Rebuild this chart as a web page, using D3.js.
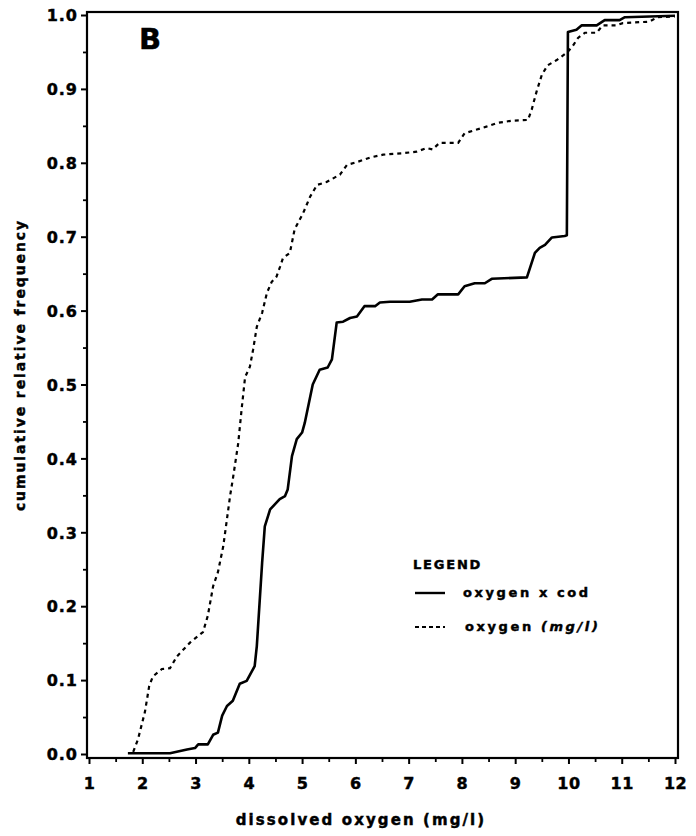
<!DOCTYPE html>
<html>
<head>
<meta charset="utf-8">
<script src="https://cdn.jsdelivr.net/npm/d3@7"></script>
<style>
  html, body { margin: 0; padding: 0; background: #fff; }
  svg { display: block; }
  text { font-family: "DejaVu Sans", sans-serif; font-weight: bold; fill: #000; stroke: #000; stroke-width: 0.45px; }
</style>
</head>
<body>
<svg id="chart" width="696" height="836"></svg>
<script>
// ---- data ----
const xTicks = [1, 2, 3, 4, 5, 6, 7, 8, 9, 10, 11, 12];
const yTicks = [0.0, 0.1, 0.2, 0.3, 0.4, 0.5, 0.6, 0.7, 0.8, 0.9, 1.0];
const seriesNames = ["oxygen x cod", "oxygen"];

// solid: oxygen x cod
const codX = [1.73, 2.52, 2.84, 2.99, 3.05, 3.23, 3.33, 3.42, 3.50, 3.59, 3.70, 3.83, 3.96, 4.11, 4.15, 4.25, 4.30, 4.40, 4.58, 4.68, 4.73, 4.81, 4.90, 5.00, 5.05, 5.20, 5.33, 5.48, 5.56, 5.65, 5.77, 5.90, 6.03, 6.17, 6.37, 6.46, 6.65, 7.02, 7.25, 7.44, 7.55, 7.93, 8.05, 8.24, 8.43, 8.56, 9.22, 9.37, 9.46, 9.56, 9.69, 9.93, 9.97, 9.99, 10.15, 10.25, 10.53, 10.68, 10.96, 11.06, 12.00];
const codY = [0.001, 0.001, 0.006, 0.008, 0.013, 0.013, 0.026, 0.029, 0.052, 0.065, 0.072, 0.095, 0.099, 0.119, 0.146, 0.259, 0.308, 0.331, 0.345, 0.349, 0.358, 0.403, 0.426, 0.435, 0.448, 0.500, 0.520, 0.523, 0.534, 0.584, 0.585, 0.590, 0.592, 0.606, 0.606, 0.611, 0.612, 0.612, 0.615, 0.615, 0.622, 0.622, 0.633, 0.637, 0.637, 0.643, 0.645, 0.678, 0.685, 0.689, 0.699, 0.701, 0.702, 0.977, 0.980, 0.986, 0.986, 0.993, 0.993, 0.997, 0.999];

// dashed: oxygen (mg/l)
const oxX = [1.83, 1.92, 2.05, 2.13, 2.20, 2.37, 2.52, 2.65, 2.90, 3.14, 3.23, 3.33, 3.42, 3.52, 3.59, 3.65, 3.70, 3.80, 3.87, 3.93, 4.02, 4.08, 4.15, 4.25, 4.34, 4.43, 4.52, 4.59, 4.64, 4.77, 4.86, 5.02, 5.15, 5.28, 5.46, 5.71, 5.84, 6.03, 6.27, 6.52, 6.89, 7.15, 7.34, 7.45, 7.58, 7.93, 8.05, 8.28, 8.46, 8.67, 8.94, 9.24, 9.31, 9.40, 9.50, 9.61, 9.78, 9.97, 10.08, 10.18, 10.31, 10.53, 10.64, 10.90, 11.02, 11.52, 11.67, 12.00];
const oxY = [0.003, 0.020, 0.057, 0.092, 0.105, 0.115, 0.116, 0.132, 0.151, 0.165, 0.187, 0.227, 0.246, 0.281, 0.318, 0.350, 0.372, 0.420, 0.470, 0.510, 0.524, 0.547, 0.578, 0.597, 0.624, 0.639, 0.646, 0.660, 0.671, 0.678, 0.710, 0.732, 0.754, 0.770, 0.774, 0.784, 0.797, 0.801, 0.807, 0.811, 0.813, 0.815, 0.820, 0.818, 0.827, 0.827, 0.840, 0.845, 0.849, 0.854, 0.857, 0.858, 0.872, 0.896, 0.919, 0.932, 0.939, 0.949, 0.958, 0.969, 0.976, 0.976, 0.986, 0.986, 0.989, 0.991, 0.997, 0.998];

// ---- layout ----
const svg = d3.select("#chart");
const frame = { left: 87, right: 678, top: 12, bottom: 758 };
const x = d3.scaleLinear().domain([1, 12]).range([89, 675]);
const y = d3.scaleLinear().domain([0, 1]).range([754, 15]);

// frame
svg.append("rect")
  .attr("x", frame.left).attr("y", frame.top)
  .attr("width", frame.right - frame.left).attr("height", frame.bottom - frame.top)
  .attr("fill", "none").attr("stroke", "#000").attr("stroke-width", 2.2);

// y axis (major)
const yAxis = d3.axisLeft(y).tickValues(yTicks).tickFormat(d3.format(".1f")).tickSize(6).tickSizeOuter(0).tickPadding(3);
const gy = svg.append("g").attr("transform", `translate(${frame.left},0)`).call(yAxis);
gy.select(".domain").remove();
gy.selectAll("line").attr("stroke-width", 2);
gy.selectAll("text").style("font-size", "16px").style("letter-spacing", "1px").attr("dy", "0.36em");

// y axis minor
const yMinor = d3.range(0.05, 1, 0.1);
const gy2 = svg.append("g").attr("transform", `translate(${frame.left},0)`)
  .call(d3.axisLeft(y).tickValues(yMinor).tickSize(4).tickFormat(""));
gy2.select(".domain").remove();
gy2.selectAll("line").attr("stroke-width", 1.8);

// x axis (major)
const xAxis = d3.axisBottom(x).tickValues(xTicks).tickFormat(d3.format("d")).tickSize(6).tickSizeOuter(0).tickPadding(14);
const gx = svg.append("g").attr("transform", `translate(0,${frame.bottom})`).call(xAxis);
gx.select(".domain").remove();
gx.selectAll("line").attr("stroke-width", 2);
gx.selectAll("text").style("font-size", "16px").style("letter-spacing", "0.5px");

// x axis minor
const xMinor = d3.range(1.5, 12, 1);
const gx2 = svg.append("g").attr("transform", `translate(0,${frame.bottom})`)
  .call(d3.axisBottom(x).tickValues(xMinor).tickSize(4).tickFormat(""));
gx2.select(".domain").remove();
gx2.selectAll("line").attr("stroke-width", 1.8);

// axis titles
svg.append("text")
  .attr("x", 361).attr("y", 825)
  .attr("text-anchor", "middle")
  .style("font-size", "15px").style("letter-spacing", "2.1px")
  .text("dissolved oxygen (mg/l)");

svg.append("text")
  .attr("transform", "translate(25,365) rotate(-90)")
  .attr("text-anchor", "middle")
  .style("font-size", "14px").style("letter-spacing", "1.9px")
  .text("cumulative relative frequency");

// panel label
svg.append("text")
  .attr("x", 139).attr("y", 49)
  .style("font-size", "29px")
  .text("B");

// lines
const line = d3.line().x(d => x(d[0])).y(d => y(d[1]));
const codData = d3.zip(codX, codY);
const oxData = d3.zip(oxX, oxY);

svg.append("path").datum(oxData)
  .attr("d", line).attr("fill", "none").attr("stroke", "#000")
  .attr("stroke-width", 2.2).attr("stroke-dasharray", "4,4");

svg.append("path").datum(codData)
  .attr("d", line).attr("fill", "none").attr("stroke", "#000")
  .attr("stroke-width", 2.6).attr("stroke-linejoin", "round");

// legend
svg.append("text").attr("x", 413).attr("y", 569)
  .style("font-size", "13px").style("letter-spacing", "1.8px").text("LEGEND");

svg.append("line").attr("x1", 415).attr("x2", 445).attr("y1", 593).attr("y2", 593)
  .attr("stroke", "#000").attr("stroke-width", 2.4);
svg.append("text").attr("x", 463).attr("y", 597)
  .style("font-size", "13px").style("letter-spacing", "2.6px").text("oxygen x cod");

svg.append("line").attr("x1", 415).attr("x2", 445).attr("y1", 627).attr("y2", 627)
  .attr("stroke", "#000").attr("stroke-width", 2).attr("stroke-dasharray", "4,3");
const t2 = svg.append("text").attr("x", 465).attr("y", 631)
  .style("font-size", "13px").style("letter-spacing", "2.6px");
t2.append("tspan").text("oxygen  ");
t2.append("tspan").style("font-style", "italic").text("(mg/l)");
</script>
</body>
</html>
